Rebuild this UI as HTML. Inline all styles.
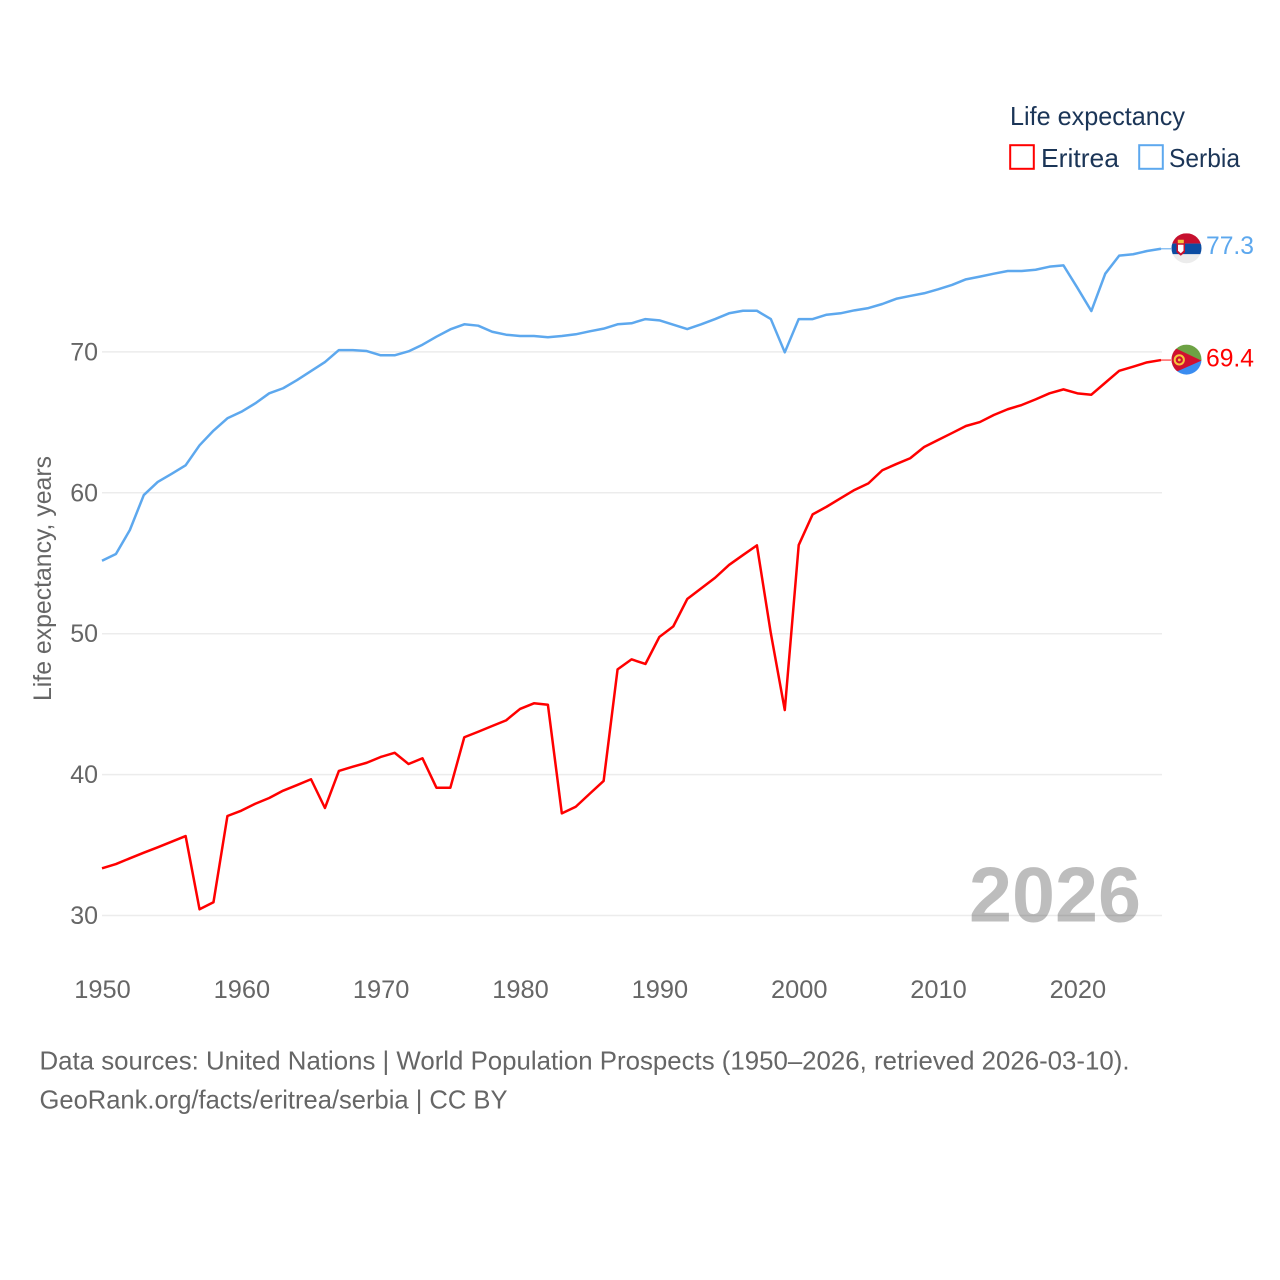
<!DOCTYPE html>
<html lang="en">
<head>
<meta charset="utf-8">
<title>Life expectancy: Eritrea and Serbia</title>
<style>
  html, body { margin: 0; padding: 0; background: #fff; }
  svg { display: block; }
  text { font-family: "Liberation Sans", sans-serif; }
</style>
</head>
<body>
<svg id="chart" xmlns="http://www.w3.org/2000/svg" width="1280" height="1280" viewBox="0 0 1280 1280">
  <rect width="1280" height="1280" fill="#ffffff"/>
  <defs>
    <clipPath id="flag-clip"><circle cx="0" cy="0" r="15"/></clipPath>
  </defs>
  <g id="grid"></g>
  <g id="y-ticks"></g>
  <g id="x-ticks"></g>
  <text transform="translate(51,701) rotate(-90)" font-size="25" fill="#666666" textLength="245" lengthAdjust="spacingAndGlyphs">Life expectancy, years</text>
  <text x="969" y="921.5" font-size="78" font-weight="700" fill="#000000" fill-opacity="0.26" textLength="172" lengthAdjust="spacingAndGlyphs">2026</text>
  <g id="series"></g>

  <g id="flag-serbia">
    <g clip-path="url(#flag-clip)">
      <rect x="-15" y="-15" width="30" height="10.3" fill="#c6102e"/>
      <rect x="-15" y="-4.7" width="30" height="10.7" fill="#0c4da2"/>
      <rect x="-15" y="6" width="30" height="10" fill="#ececec"/>
      <path d="M-10 -5 H-1.5 V4 L-5.7 7.5 L-10 4 Z" fill="#c6102e"/>
      <rect x="-8.7" y="-8.5" width="6" height="3.5" fill="#f4c53d"/>
      <path d="M-8.5 -3.5 H-3 V2.5 L-5.7 5 L-8.5 2.5 Z" fill="#ffffff"/>
    </g>
  </g>
  <g id="flag-eritrea">
    <g clip-path="url(#flag-clip)">
      <rect x="-15" y="-15" width="30" height="16" fill="#6da244"/>
      <rect x="-15" y="1" width="30" height="15" fill="#3a8cf0"/>
      <path d="M-21 -16 L15 1 L-21 17 Z" fill="#d0102f"/>
      <circle cx="-7.2" cy="0.3" r="4.6" fill="none" stroke="#f4c53d" stroke-width="2"/>
      <circle cx="-7.2" cy="0.3" r="1.4" fill="#f4c53d"/>
    </g>
  </g>
  <g id="end-labels"></g>

  <g>
    <text x="1010" y="125" font-size="26" fill="#1b3557" textLength="175" lengthAdjust="spacingAndGlyphs">Life expectancy</text>
    <g>
      <rect x="1010.2" y="145.2" width="23.6" height="23.6" fill="none" stroke="#ff0000" stroke-width="2"/>
      <text x="1041" y="167" font-size="26" fill="#1b3557" textLength="78" lengthAdjust="spacingAndGlyphs">Eritrea</text>
    </g>
    <g>
      <rect x="1139.2" y="145.2" width="23.6" height="23.6" fill="none" stroke="#5da8ee" stroke-width="2"/>
      <text x="1169" y="167" font-size="26" fill="#1b3557" textLength="71" lengthAdjust="spacingAndGlyphs">Serbia</text>
    </g>
  </g>

  <text x="39.5" y="1069.5" font-size="26" fill="#666666" textLength="1090" lengthAdjust="spacingAndGlyphs">Data sources: United Nations | World Population Prospects (1950–2026, retrieved 2026-03-10).</text>
  <text x="39.5" y="1108.5" font-size="26" fill="#666666" textLength="468" lengthAdjust="spacingAndGlyphs">GeoRank.org/facts/eritrea/serbia | CC BY</text>
</svg>

<script>
const years = [
  1950,1951,1952,1953,1954,1955,1956,1957,1958,1959,
  1960,1961,1962,1963,1964,1965,1966,1967,1968,1969,
  1970,1971,1972,1973,1974,1975,1976,1977,1978,1979,
  1980,1981,1982,1983,1984,1985,1986,1987,1988,1989,
  1990,1991,1992,1993,1994,1995,1996,1997,1998,1999,
  2000,2001,2002,2003,2004,2005,2006,2007,2008,2009,
  2010,2011,2012,2013,2014,2015,2016,2017,2018,2019,
  2020,2021,2022,2023,2024,2025,2026
];
const eritreaValues = [
  33.35,33.65,34.06,34.46,34.84,35.24,35.64,30.44,30.94,37.06,
  37.44,37.93,38.34,38.86,39.26,39.67,37.63,40.26,40.56,40.84,
  41.25,41.55,40.75,41.16,39.07,39.07,42.65,43.04,43.45,43.85,
  44.66,45.06,44.96,37.25,37.72,38.64,39.55,47.47,48.18,47.85,
  49.77,50.52,52.46,53.22,53.97,54.88,55.58,56.27,50.03,44.58,
  56.29,58.47,59.01,59.61,60.20,60.67,61.60,62.04,62.45,63.25,
  63.75,64.24,64.74,65.02,65.52,65.93,66.23,66.63,67.06,67.34,
  67.06,66.96,67.81,68.66,68.95,69.26,69.42
];
const serbiaValues = [
  55.18,55.66,57.36,59.84,60.77,61.35,61.95,63.37,64.41,65.29,
  65.75,66.35,67.06,67.42,68.00,68.64,69.28,70.13,70.13,70.06,
  69.76,69.76,70.04,70.51,71.08,71.60,71.96,71.86,71.43,71.22,
  71.13,71.13,71.04,71.13,71.25,71.46,71.65,71.96,72.03,72.33,
  72.24,71.93,71.62,71.96,72.33,72.74,72.92,72.92,72.33,69.97,
  72.33,72.33,72.64,72.74,72.95,73.11,73.40,73.77,73.97,74.16,
  74.44,74.75,75.15,75.34,75.55,75.74,75.74,75.83,76.05,76.14,
  74.55,72.90,75.55,76.83,76.93,77.16,77.32
];
const yTickValues = [30, 40, 50, 60, 70];
const xTickValues = [1950, 1960, 1970, 1980, 1990, 2000, 2010, 2020];
const eritreaEndLabel = "69.4";
const serbiaEndLabel = "77.3";

const NS = "http://www.w3.org/2000/svg";
const xScale = function (year) { return 102 + (year - 1950) * (1161 - 102) / 76; };
const yScale = function (value) { return 915.5 - (value - 30) * 14.09; };

function make(tag, parentId) {
  const el = document.createElementNS(NS, tag);
  document.getElementById(parentId).appendChild(el);
  return el;
}

yTickValues.forEach(function (tick) {
  const line = make("line", "grid");
  
  
  line.setAttribute("x1", 102);
  line.setAttribute("x2", 1162);
  line.setAttribute("y1", yScale(tick));
  line.setAttribute("y2", yScale(tick));
  line.setAttribute("stroke", "#ececec");
  line.setAttribute("stroke-width", 1.5);

  const label = make("text", "y-ticks");
  
  
  label.setAttribute("x", 98);
  label.setAttribute("y", yScale(tick) + 8.5);
  label.setAttribute("text-anchor", "end");
  label.setAttribute("font-size", 25);
  label.setAttribute("fill", "#666666");
  label.textContent = String(tick);
});

xTickValues.forEach(function (tick) {
  const label = make("text", "x-ticks");
  
  
  label.setAttribute("x", xScale(tick) + 0.5);
  label.setAttribute("y", 998);
  label.setAttribute("text-anchor", "middle");
  label.setAttribute("font-size", 25);
  label.setAttribute("fill", "#666666");
  label.setAttribute("textLength", 56.5);
  label.setAttribute("lengthAdjust", "spacingAndGlyphs");
  label.textContent = String(tick);
});

function pathFor(values) {
  return values.map(function (value, i) {
    return (i === 0 ? "M" : "L") + xScale(years[i]).toFixed(2) + " " + yScale(value).toFixed(2);
  }).join(" ");
}

const eritreaLine = make("path", "series");


eritreaLine.setAttribute("d", pathFor(eritreaValues));
eritreaLine.setAttribute("fill", "none");
eritreaLine.setAttribute("stroke", "#ff0000");
eritreaLine.setAttribute("stroke-width", 2.5);
eritreaLine.setAttribute("stroke-linejoin", "round");

const serbiaLine = make("path", "series");


serbiaLine.setAttribute("d", pathFor(serbiaValues));
serbiaLine.setAttribute("fill", "none");
serbiaLine.setAttribute("stroke", "#5da8ee");
serbiaLine.setAttribute("stroke-width", 2.5);
serbiaLine.setAttribute("stroke-linejoin", "round");

const lastYear = years[years.length - 1];
const eritreaEndY = yScale(eritreaValues[eritreaValues.length - 1]);
const serbiaEndY = yScale(serbiaValues[serbiaValues.length - 1]);

const eritreaConnector = make("line", "series");


eritreaConnector.setAttribute("x1", xScale(lastYear));
eritreaConnector.setAttribute("x2", 1171);
eritreaConnector.setAttribute("y1", eritreaEndY);
eritreaConnector.setAttribute("y2", eritreaEndY);
eritreaConnector.setAttribute("stroke", "#ff0000");
eritreaConnector.setAttribute("stroke-width", 1.3);
eritreaConnector.setAttribute("stroke-opacity", 0.7);

const serbiaConnector = make("line", "series");


serbiaConnector.setAttribute("x1", xScale(lastYear));
serbiaConnector.setAttribute("x2", 1171);
serbiaConnector.setAttribute("y1", serbiaEndY);
serbiaConnector.setAttribute("y2", serbiaEndY);
serbiaConnector.setAttribute("stroke", "#5da8ee");
serbiaConnector.setAttribute("stroke-width", 1.3);
serbiaConnector.setAttribute("stroke-opacity", 0.8);

document.getElementById("flag-eritrea").setAttribute("transform", "translate(1186.5," + (eritreaEndY - 0.5) + ")");
document.getElementById("flag-serbia").setAttribute("transform", "translate(1186.5," + (serbiaEndY - 0.5) + ")");

const eritreaLabel = make("text", "end-labels");


eritreaLabel.setAttribute("x", 1206);
eritreaLabel.setAttribute("y", eritreaEndY + 6.5);
eritreaLabel.setAttribute("font-size", 25);
eritreaLabel.setAttribute("fill", "#ff0000");
eritreaLabel.setAttribute("textLength", 48);
eritreaLabel.setAttribute("lengthAdjust", "spacingAndGlyphs");
eritreaLabel.textContent = eritreaEndLabel;

const serbiaLabel = make("text", "end-labels");


serbiaLabel.setAttribute("x", 1206);
serbiaLabel.setAttribute("y", serbiaEndY + 5.3);
serbiaLabel.setAttribute("font-size", 25);
serbiaLabel.setAttribute("fill", "#5da8ee");
serbiaLabel.setAttribute("textLength", 48);
serbiaLabel.setAttribute("lengthAdjust", "spacingAndGlyphs");
serbiaLabel.textContent = serbiaEndLabel;
</script>
</body>
</html>
